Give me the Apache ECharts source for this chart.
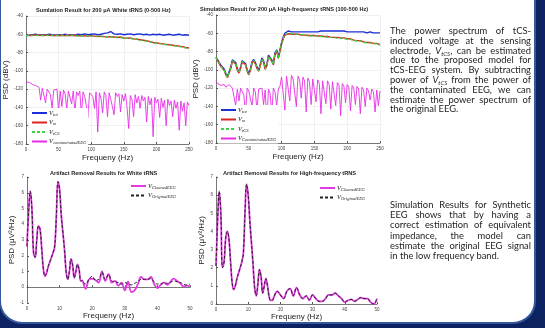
<!DOCTYPE html>
<html>
<head>
<meta charset="utf-8">
<script src="https://cdn.jsdelivr.net/npm/echarts@6/dist/echarts.min.js"></script>
<style>
html, body { margin: 0; padding: 0; background: #0d2260; }
#chart { position: absolute; left: 0; top: 0; width: 545px; height: 328px; }
.note { position: absolute; left: 390px; width: 141px; font-family: Lato, "Open Sans", sans-serif; font-size: 9.4px; color: #1e1e1e; }
.note div { text-align: justify; text-align-last: justify; white-space: nowrap; }
.note div.last { text-align-last: left; }
.note sub { font-size: 6px; line-height: 0; vertical-align: -1.5px; }
</style>
</head>
<body>
<div id="chart"></div>
<div class="note" style="top:26px; line-height:9.8px;">
  <div>The power spectrum of tCS-</div>
  <div>induced voltage at the sensing</div>
  <div>electrode, <i>V<sub>tCS</sub></i>, can be estimated</div>
  <div>due to the proposed model for</div>
  <div>tCS-EEG system. By subtracting</div>
  <div>power of <i>V<sub>tCS</sub></i> from the power of</div>
  <div>the contaminated EEG, we can</div>
  <div>estimate the power spectrum of</div>
  <div class="last">the original EEG.</div>
</div>
<div class="note" style="top:200px; line-height:10.2px;">
  <div>Simulation Results for Synthetic</div>
  <div>EEG shows that by having a</div>
  <div>correct estimation of equivalent</div>
  <div>impedance, the model can</div>
  <div>estimate the original EEG signal</div>
  <div class="last">in the low frequency band.</div>
</div>
<script>
// top charts: PSD in dBV, sampled every 5 Hz (V_tot, V_m, V_tCS) or 2.5 Hz
var wStep = 5;
var fineStep = 2.5;

// white tRNS (0-500 Hz)
var wTot = [-61,-61,-60.5,-60,-61,-60.5,-61,-60,-60.5,-61,
  -60.5,-61,-60,-61,-60.5,-61,-60,-60.5,-59.5,-60.5,
  -60,-59.5,-60.5,-60,-59,-58.5,-57,-59.5,-60,-59.5,
  -60.5,-60,-59.5,-60.5,-60,-59.5,-60.5,-60,-61,-60,
  -60.5,-60,-61,-60.5,-60,-61,-60.5,-60,-61,-60.5,-61];
var wM = [-61,-61.5,-61,-60.5,-61,-61.5,-61,-61,-61.5,-61,
  -61.5,-61,-61.5,-61,-61.5,-61,-61.5,-62,-61.5,-62,
  -61.5,-62,-62.5,-62,-62.5,-63,-62.5,-63,-63.5,-63,
  -64,-64.5,-64,-65,-65.5,-66,-66.5,-67,-68,-69,
  -69.5,-70,-70.5,-71,-71.5,-72,-72.5,-73,-73.5,-74.5,-75];
var wTcs = [-61.5,-61,-61.5,-61,-61.5,-61,-61.5,-61,-61,-61.5,
  -61,-61.5,-61,-61.5,-61,-61.5,-62,-61.5,-62,-61.5,
  -62,-62,-62,-62.5,-63,-62.5,-63,-63.5,-63,-63.5,
  -64.5,-64,-64.5,-65.5,-65,-66.5,-67,-67.5,-68.5,-69,
  -70,-70.5,-70.5,-71.5,-72,-72,-73,-73.5,-74,-75,-75.5];
var wContam = [-112,-113,-112.5,-114,-115,-114,-116,-117,-118,-132,
  -119,-120,-135,-120,-121,-126,-141,-121,-123,-120,
  -144,-122,-139,-121,-125,-142,-122,-124,-136,-122,
  -146,-123,-127,-122,-149,-123,-128,-138,-151,-124,
  -122,-128,-141,-123,-167,-124,-130,-146,-123,-127,
  -150,-124,-131,-139,-148,-124,-128,-125,-145,-126,
  -133,-125,-140,-163,-127,-131,-150,-126,-135,-128,
  -141,-127,-133,-129,-156,-128,-137,-130,-172,-129,
  -135,-131,-151,-130,-140,-132,-160,-131,-138,-133,
  -150,-132,-141,-134,-165,-133,-144,-135,-160,-134,
  -138];

// high-frequency tRNS (100-500 Hz), every 2.5 Hz
var hTot = [-86,-88,-92,-95,-95,-99,-104,-107,-106,-97,
  -89,-87.5,-92,-99,-102,-97,-90,-88.5,-93,-100,
  -104,-99,-91,-88.5,-92,-97,-100,-94,-87,-90,
  -98,-94,-84,-82,-89,-93,-81,-78,-86,-88,
  -70,-64,-60,-58,-57.5,
  -58,-58.5,-58,-58.5,-59,-58.5,-58,-58.5,-59,-58.5,
  -58,-58.5,-58,-58.5,-59,-58.5,-58,-58.5,-58,-57.5,
  -58,-57.5,-58,-57.5,-57,-57.5,-58,-57.5,-57,-57.5,
  -57,-57.5,-58,-57.5,-58,-58.5,-58,-58.5,-59,-58.5,
  -58,-58.5,-59,-58.5,-59,-58.5,-59,-59.5,-59,-58.5,
  -59,-59.5,-59,-59.5,-60,-59.5];
var hM = [-87,-89.5,-93.5,-96.5,-96.5,-100.5,-105.5,-108.5,-107.5,-98.5,
  -90.5,-89,-93.5,-100.5,-103.5,-98.5,-91.5,-90,-94.5,-101.5,
  -105.5,-100.5,-92.5,-90,-93.5,-98.5,-101.5,-95.5,-88.5,-91.5,
  -99.5,-95.5,-85.5,-83.5,-90.5,-94.5,-82.5,-79.5,-87.5,-89.5,
  -72,-66,-62,-60.5,-60.5,
  -60.5,-61,-60.5,-61,-61.5,-61,-61.5,-62,-61.5,-62,
  -62,-62.5,-62,-62.5,-63,-62.5,-63,-63,-63.5,-63,
  -63.5,-63.5,-64,-63.5,-64,-64.5,-64,-64.5,-65,-64.5,
  -65,-65,-65.5,-65,-65.5,-66,-66.5,-66,-67,-67.5,
  -67,-68,-68.5,-68,-69,-69.5,-69,-70,-70.5,-70,
  -70.5,-71,-71.5,-71,-72,-72.5];
var hTcs = [-86.5,-89,-93,-96,-96,-100,-105,-108,-107,-98,
  -90,-88.5,-93,-100,-103,-98,-91,-89.5,-94,-101,
  -105,-100,-92,-89.5,-93,-98,-101,-95,-88,-91,
  -99,-95,-85,-83,-90,-94,-82,-79,-87,-89,
  -71.5,-65.5,-61.5,-60,-60,
  -60,-60.5,-61,-60.5,-61,-61.5,-61,-61.5,-62,-61.5,
  -62.5,-62,-62.5,-63,-62.5,-63,-63.5,-63,-63.5,-63.5,
  -64,-63.5,-64,-64.5,-64,-64.5,-65,-64.5,-65,-65.5,
  -65,-65.5,-66,-65.5,-66,-66.5,-67,-66.5,-67.5,-68,
  -67.5,-68.5,-69,-68.5,-69.5,-70,-69.5,-70.5,-71,-70.5,
  -71,-71.5,-72,-71.5,-72.5,-73];
var hContam = [-112,-115,-113,-117,-118,-116,-119,-121,-116,-118,
  -120,-119,-139,-121,-134,-120,-122,-128,-149,-120,
  -123,-121,-140,-120,-124,-145,-121,-123,-120,-138,
  -122,-159,-121,-126,-147,-120,-124,-140,-121,-118,
  -108,-110,-144,-107,-109,-134,-106,-110,-108,-140,
  -107,-111,-131,-108,-112,-146,-109,-113,-138,-110,
  -109,-135,-111,-115,-148,-112,-114,-137,-112,-116,
  -143,-113,-115,-139,-114,-117,-150,-115,-118,-136,
  -116,-119,-145,-117,-120,-138,-118,-121,-148,-119,
  -122,-140,-120,-123,-133,-121,-124,-146,-122,-139,
  -123];

// bottom charts: PSD in uV^2/Hz
var lowFreq = [0,0.5,1,1.5,2,2.5,3,3.5,4,4.5,5,5.5,6,6.5,7,7.5,8,8.5,9,9.5,
  10,10.5,11,11.5,12,12.5,13,13.5,14,14.5,15,15.5,16,16.5,17,17.5,18,
  19,20,21,22,23,24,25,26,27,28,29,30,31,32,33,34,35,36,37,38,39,40,
  41,42,43,44,45,46,47,48,49,50];
var wCleaned = [2.6,4.8,6.1,5.0,2.2,1.9,3.0,3.9,3.7,2.5,
  1.2,0.7,0.9,1.3,1.6,1.9,2.2,2.6,4.5,6.7,
  6.2,4.6,3.5,2.4,1.0,0.5,1.0,1.8,1.4,0.6,
  1.0,1.45,1.1,0.4,0.4,0.1,-0.1,
  0.5,0.55,0.45,0.3,1.0,0.4,0.85,0.3,0.4,0.1,0.3,-0.2,0.35,-0.3,-0.2,0.2,
  0.65,0.5,0.5,0.65,0.2,-0.05,0.15,0.3,0.15,0.35,0.55,0.4,0.25,0.05,0.1,0.05];
var wOriginal = [2.6,4.8,6.1,5.0,2.2,1.9,3.0,3.9,3.7,2.5,
  1.2,0.7,0.9,1.3,1.6,1.9,2.2,2.6,4.5,6.7,
  6.2,4.6,3.5,2.4,1.0,0.5,1.0,1.8,1.4,0.6,
  1.0,1.45,1.1,0.4,0.45,0.25,0.2,
  0.5,0.7,0.45,0.5,0.95,0.5,0.8,0.4,0.35,0.3,0.2,0.3,0.2,0.15,0.25,0.35,
  0.5,0.5,0.5,0.55,0.35,0.2,0.2,0.3,0.25,0.3,0.4,0.35,0.3,0.2,0.15,0.2];
var hCleaned = [2.1,4.6,6.2,5.0,2.0,2.3,3.6,4.0,3.6,2.4,
  1.2,0.8,1.0,1.4,1.7,2.0,2.3,2.8,5.0,6.6,
  6.0,4.6,3.4,2.2,0.9,0.45,1.1,1.9,1.5,0.6,
  1.0,1.4,1.0,0.4,0.2,0.2,0.4,
  0.7,0.5,0.3,0.7,0.85,0.45,0.9,0.5,0.3,0.45,0.2,0.5,0.3,0.15,0.15,0.3,
  0.5,0.5,0.6,0.45,0.3,0.1,0.2,0.25,0.15,0.25,0.35,0.3,0.3,0.1,0.0,0.3];
var hOriginal = [2.1,4.6,6.2,5.0,2.0,2.3,3.6,4.0,3.6,2.4,
  1.2,0.8,1.0,1.4,1.7,2.0,2.3,2.8,5.0,6.6,
  6.0,4.6,3.4,2.2,0.9,0.45,1.1,1.9,1.5,0.6,
  1.0,1.4,1.0,0.4,0.2,0.2,0.4,
  0.7,0.5,0.3,0.7,0.85,0.45,0.9,0.5,0.3,0.45,0.25,0.5,0.3,0.15,0.15,0.3,
  0.5,0.5,0.6,0.45,0.3,0.1,0.2,0.25,0.15,0.25,0.35,0.3,0.3,0.1,0.0,0.3];

var font = '"Liberation Sans", Arial, sans-serif';

function stepped(step, arr) {
  return arr.map(function (v, i) { return [i * step, v]; });
}
function paired(xs, arr) {
  return arr.map(function (v, i) { return [xs[i], v]; });
}

function line(name, idx, data, color, width, dash, smooth) {
  return {
    name: name, type: 'line', xAxisIndex: idx, yAxisIndex: idx,
    data: data, symbol: 'none', smooth: smooth || false,
    lineStyle: { color: color, width: width, type: dash || 'solid' },
    itemStyle: { color: color },
    animation: false
  };
}

function xAx(idx, max, interval, grid, gap) {
  return {
    type: 'value', gridIndex: idx, min: 0, max: max, interval: interval,
    name: 'Frequeny (Hz)', nameLocation: 'middle', nameGap: gap,
    nameTextStyle: { fontFamily: font, fontSize: 8, color: '#222' },
    axisLine: { lineStyle: { color: '#555', width: 0.8 } },
    axisTick: { inside: true, length: 2, lineStyle: { color: '#555' } },
    axisLabel: { fontFamily: font, fontSize: 4.5, color: '#444', margin: 3 },
    splitLine: { show: grid, lineStyle: { color: '#e6e6e6', width: 0.6 } }
  };
}
function yAx(idx, min, max, interval, name, grid) {
  return {
    type: 'value', gridIndex: idx, min: min, max: max, interval: interval,
    name: name, nameLocation: 'middle', nameGap: 10,
    nameTextStyle: { fontFamily: font, fontSize: 8, color: '#222' },
    axisLine: { show: true, lineStyle: { color: '#555', width: 0.8 } },
    axisTick: { show: true, inside: true, length: 2, lineStyle: { color: '#555' } },
    axisLabel: { fontFamily: font, fontSize: 4.5, color: '#444', margin: 3 },
    splitLine: { show: grid, lineStyle: { color: '#e6e6e6', width: 0.6 } }
  };
}

var legendNames = {
  tot1: '{v|V}{s|tot}', m1: '{v|V}{s|m}', tcs1: '{v|V}{s|tCS}', c1: '{v|V}{s|contaminatedEEG}',
  tot2: '{v|V}{s|tot}', m2: '{v|V}{s|m}', tcs2: '{v|V}{s|tCS}', c2: '{v|V}{s|ContaminatedEEG}',
  cl3: '{v|V}{s|CleanedEEG}', or3: '{v|V}{s|OriginalEEG}',
  cl4: '{v|V}{s|CleanedEEG}', or4: '{v|V}{s|OriginalEEG}'
};
var legendRich = {
  v: { fontFamily: 'serif', fontStyle: 'italic', fontSize: 6.5, color: '#222', lineHeight: 8 },
  s: { fontFamily: 'serif', fontStyle: 'italic', fontSize: 4.5, color: '#222', lineHeight: 8, padding: [3, 0, 0, 0] }
};
function legend(left, top, names) {
  return {
    left: left, top: top, orient: 'vertical', data: names,
    itemWidth: 15, itemHeight: 6, itemGap: 1.5, padding: [1, 2],
    backgroundColor: '#fff', selectedMode: false,
    itemStyle: { opacity: 0 },
    formatter: function (n) { return legendNames[n]; },
    textStyle: { rich: legendRich, padding: [0, 0, 0, -3] }
  };
}

var titleStyle = { fontFamily: font, fontSize: 5.6, fontWeight: 'bold', color: '#222' };

var chart = echarts.init(document.getElementById('chart'));
chart.setOption({
  animation: false,
  graphic: [{
    type: 'rect', z: -10,
    shape: { x: 0, y: -30, width: 535, height: 353, r: [0, 0, 22, 22] },
    style: { fill: '#fff', stroke: '#35589c', lineWidth: 2 }
  }],
  title: [
    { text: 'Sumlation Result for 200 μA White tRNS (0-500 Hz)', left: 36, top: 7, padding: 0, textStyle: titleStyle },
    { text: 'Simulation Result for 200 μA High-frequency tRNS (100-500 Hz)', left: 200, top: 6, padding: 0, textStyle: titleStyle },
    { text: 'Artifact Removal Results for White tRNS', left: 50, top: 170, padding: 0, textStyle: titleStyle },
    { text: 'Artifact Removal Results for High-frequency tRNS', left: 223, top: 170, padding: 0, textStyle: titleStyle }
  ],
  legend: [
    legend(29, 108, ['tot1', 'm1', 'tcs1', 'c1']),
    legend(218, 105, ['tot2', 'm2', 'tcs2', 'c2']),
    legend(128, 181, ['cl3', 'or3']),
    legend(317, 183, ['cl4', 'or4'])
  ],
  grid: [
    { left: 26, top: 16, width: 163, height: 128 },
    { left: 216, top: 15, width: 164, height: 128 },
    { left: 27, top: 177, width: 163, height: 126 },
    { left: 216, top: 177, width: 161, height: 127 }
  ],
  xAxis: [xAx(0, 250, 50, true, 10), xAx(1, 250, 50, true, 10), xAx(2, 50, 10, false, 9), xAx(3, 50, 10, false, 8)],
  yAxis: [
    yAx(0, -180, -40, 20, 'PSD (dBV)', true),
    yAx(1, -180, -40, 20, 'PSD (dBV)', true),
    yAx(2, -1, 7, 1, 'PSD (μV²/Hz)', false),
    yAx(3, 0, 7, 1, 'PSD (μV²/Hz)', false)
  ],
  series: [
    line('tot1', 0, stepped(wStep, wTot), '#1c2fd6', 1.4),
    line('m1', 0, stepped(wStep, wM), '#dd2222', 1.4),
    line('tcs1', 0, stepped(wStep, wTcs), '#3fd13f', 1.4, [3, 2]),
    line('c1', 0, stepped(fineStep, wContam), '#e62ee6', 0.9),
    line('tot2', 1, stepped(fineStep, hTot), '#1c2fd6', 1.4),
    line('m2', 1, stepped(fineStep, hM), '#dd2222', 1.4),
    line('tcs2', 1, stepped(fineStep, hTcs), '#3fd13f', 1.4, [3, 2]),
    line('c2', 1, stepped(fineStep, hContam), '#e62ee6', 0.9),
    line('cl3', 2, paired(lowFreq, wCleaned), '#e03ae0', 1.8, 'solid', 0.4),
    line('or3', 2, paired(lowFreq, wOriginal), '#222', 1, [3, 2], 0.4),
    line('cl4', 3, paired(lowFreq, hCleaned), '#e03ae0', 1.8, 'solid', 0.4),
    line('or4', 3, paired(lowFreq, hOriginal), '#222', 1, [3, 2], 0.4)
  ]
});
</script>
</body>
</html>
